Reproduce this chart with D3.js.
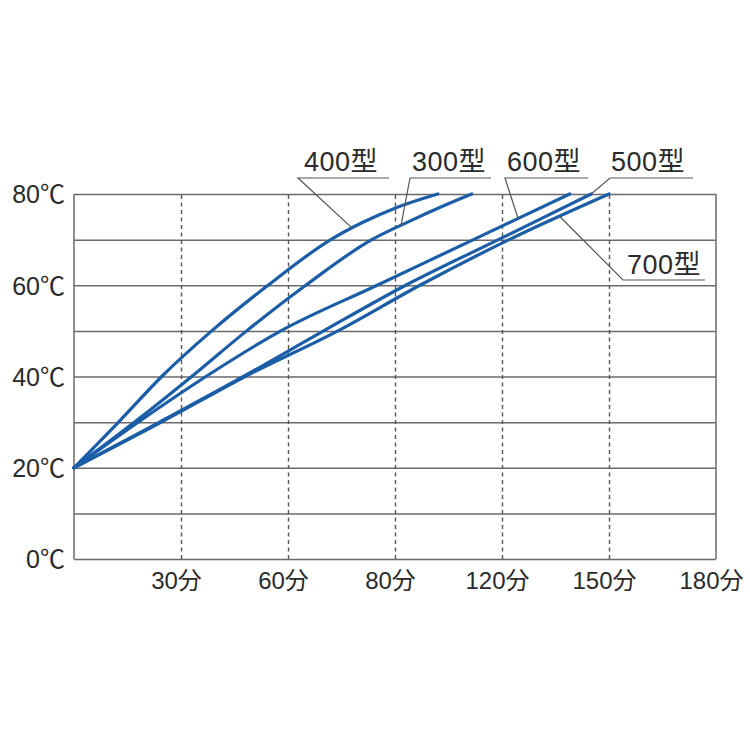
<!DOCTYPE html>
<html>
<head>
<meta charset="utf-8">
<script src="https://cdn.jsdelivr.net/npm/d3@7"></script>
<style>
  html, body { margin: 0; padding: 0; background: #ffffff; }
  svg { display: block; }
  text { font-family: "Liberation Sans", Arial, "Noto Sans CJK JP", "Noto Sans CJK SC", sans-serif; fill: #2b2b2b; }
</style>
</head>
<body>
<svg id="chart" width="750" height="750"></svg>
<script>
// ---------- data ----------
const seriesNames = ["400型", "300型", "600型", "500型", "700型"];

const minutes400 = [0, 12.5, 24.6, 38.6, 54.4, 72, 81, 90, 102];
const temps400   = [20, 30, 40, 50, 60, 70, 73.8, 76.9, 80];

const minutes300 = [0, 17, 33, 48.4, 65, 83.5, 94, 103, 111.5];
const temps300   = [20, 30, 40, 50, 60, 70, 74, 77.2, 80];

const minutes600 = [0, 18, 37, 58, 85, 112, 139];
const temps600   = [20, 30, 40, 50, 60, 70, 80];

const minutes500 = [0, 24, 47.5, 70, 93, 119, 145];
const temps500   = [20, 30, 40, 50, 60, 70, 80];

const minutes700 = [0, 24.5, 48, 74, 97, 122, 150];
const temps700   = [20, 30, 40, 50, 60, 70, 80];

// minute on each curve where the label leader touches it
const leaderMinutes = [78, 91.7, 124.5, 145, 136.2];

const xTickValues = [30, 60, 90, 120, 150, 180];
const xTickLabels = ["30分", "60分", "80分", "120分", "150分", "180分"];
const yTickValues = [0, 20, 40, 60, 80];
const yTickLabels = ["0℃", "20℃", "40℃", "60℃", "80℃"];
const yGridValues = [0, 10, 20, 30, 40, 50, 60, 70, 80];

// ---------- layout ----------
const svg = d3.select("#chart");
const plotLeft = 74, plotRight = 716, plotTop = 194, plotBottom = 559;
const x = d3.scaleLinear().domain([0, 180]).range([plotLeft, plotRight]);
const y = d3.scaleLinear().domain([0, 80]).range([plotBottom, plotTop]);

const seriesData = [
  d3.zip(minutes400, temps400),
  d3.zip(minutes300, temps300),
  d3.zip(minutes600, temps600),
  d3.zip(minutes500, temps500),
  d3.zip(minutes700, temps700)
];

// label layout: text start x, baseline y, underline start/end x, underline y
const labelLayout = [
  { tx: 304, ty: 171, u0: 298, u1: 389, uy: 178 },
  { tx: 412, ty: 171, u0: 410, u1: 491, uy: 178 },
  { tx: 507, ty: 171, u0: 505, u1: 588, uy: 178 },
  { tx: 611, ty: 171, u0: 610, u1: 693, uy: 178 },
  { tx: 627, ty: 274, u0: 623, u1: 705, uy: 280 }
];

const gridColor = "#6a6a6a";
const lineColor = "#1b5ea7";
const fontStack = "'Liberation Sans', Arial, 'Noto Sans CJK JP', 'Noto Sans CJK SC', sans-serif";

// horizontal solid gridlines
svg.append("g")
  .attr("transform", `translate(${plotLeft},0)`)
  .call(d3.axisLeft(y).tickValues(yGridValues).tickSize(-(plotRight - plotLeft)).tickFormat(""))
  .call(g => g.select(".domain").remove())
  .call(g => g.selectAll("line").attr("stroke", gridColor).attr("stroke-width", 1.5));

// vertical dashed gridlines
svg.append("g")
  .attr("transform", `translate(0,${plotBottom})`)
  .call(d3.axisBottom(x).tickValues(xTickValues.filter(v => v < 180)).tickSize(-(plotBottom - plotTop)).tickFormat(""))
  .call(g => g.select(".domain").remove())
  .call(g => g.selectAll("line").attr("stroke", "#555").attr("stroke-width", 1.4).attr("stroke-dasharray", "4,3.5"));

// left and right borders
svg.append("line").attr("x1", x(0)).attr("x2", x(0)).attr("y1", y(0)).attr("y2", y(80))
  .attr("stroke", gridColor).attr("stroke-width", 1.5);
svg.append("line").attr("x1", x(180)).attr("x2", x(180)).attr("y1", y(0)).attr("y2", y(80))
  .attr("stroke", gridColor).attr("stroke-width", 1.5);

// x tick labels
svg.append("g")
  .attr("transform", `translate(0,${plotBottom})`)
  .call(d3.axisBottom(x).tickValues(xTickValues).tickSize(0).tickFormat((d, i) => xTickLabels[i]))
  .call(g => g.select(".domain").remove())
  .call(g => g.selectAll("text")
    .attr("font-size", 24).attr("fill", "#2b2b2b").attr("dy", null).attr("y", 30).attr("dx", -5)
    .style("font-family", fontStack));

// y tick labels
svg.append("g")
  .attr("transform", `translate(${plotLeft},0)`)
  .call(d3.axisLeft(y).tickValues(yTickValues).tickSize(0).tickFormat((d, i) => yTickLabels[i]))
  .call(g => g.select(".domain").remove())
  .call(g => g.selectAll("text")
    .attr("font-size", 25).attr("fill", "#2b2b2b").attr("x", -9).attr("dy", "0.35em")
    .style("font-family", fontStack));

// curves
const line = d3.line()
  .x(d => x(d[0]))
  .y(d => y(d[1]))
  .curve(d3.curveMonotoneX);

svg.append("g")
  .selectAll("path")
  .data(seriesData)
  .join("path")
  .attr("d", line)
  .attr("fill", "none")
  .attr("stroke", lineColor)
  .attr("stroke-width", 3.2)
  .attr("stroke-linecap", "round");

// interpolate temperature on a series at a given minute
function tempAt(series, m) {
  for (let i = 1; i < series.length; i++) {
    if (m <= series[i][0]) {
      const [m0, t0] = series[i - 1], [m1, t1] = series[i];
      return t0 + (t1 - t0) * (m - m0) / (m1 - m0);
    }
  }
  return series[series.length - 1][1];
}

// labels with leaders
const lg = svg.append("g");
seriesNames.forEach((name, i) => {
  const L = labelLayout[i];
  const ax = x(leaderMinutes[i]);
  const ay = y(tempAt(seriesData[i], leaderMinutes[i]));
  lg.append("polyline")
    .attr("points", `${L.u1},${L.uy} ${L.u0},${L.uy} ${ax},${ay}`)
    .attr("fill", "none")
    .attr("stroke", "#555")
    .attr("stroke-width", 1.2);
  lg.append("text")
    .attr("x", L.tx).attr("y", L.ty)
    .attr("font-size", 27)
    .attr("letter-spacing", 0.5)
    .style("font-family", fontStack)
    .text(name);
});
</script>
</body>
</html>
